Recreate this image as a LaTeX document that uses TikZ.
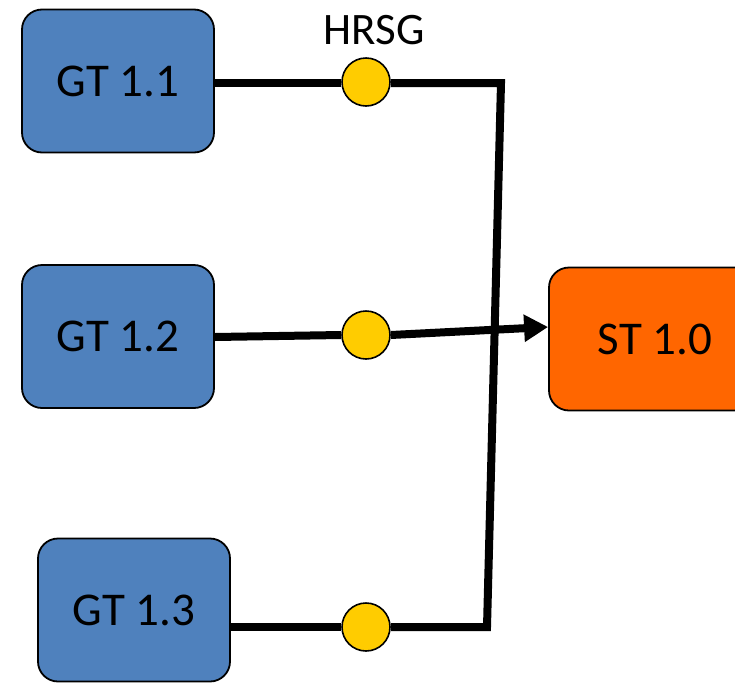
\documentclass[tikz,border=0pt]{standalone}
\usepackage{fontspec}
\setmainfont{Carlito}
\usetikzlibrary{arrows.meta,calc}
\definecolor{gtblue}{HTML}{4F81BD}
\definecolor{storange}{HTML}{FF6600}
\definecolor{hrsgyellow}{HTML}{FFCC00}
\tikzset{
  unit/.style={draw=black, line width=1.8pt, rounded corners=20pt,
    minimum width=192pt, minimum height=143pt, inner sep=0pt,
    font=\fontsize{47}{51}\selectfont},
  gt/.style={unit, fill=gtblue},
  st/.style={unit, fill=storange, minimum width=212pt},
  hrsg/.style={circle, draw=black, line width=1.6pt, fill=hrsgyellow,
    minimum size=48pt, inner sep=0pt},
  pipe/.style={line width=8pt, line join=miter, line cap=butt},
}
\begin{document}
\begin{tikzpicture}[x=1pt,y=-1pt]
  \useasboundingbox (0,0) rectangle (735,683);
  \clip (0,0) rectangle (735,683);

  % turbines
  \node[gt] (g1) at (118,81)  {GT 1.1};
  \node[gt] (g2) at (118,336.5) {GT 1.2};
  \node[gt] (g3) at (134,610) {GT 1.3};
  \node[st] (st) at (655,339) {ST 1.0};

  % heat recovery steam generators
  \node[hrsg] (h1) at (366,82)  {};
  \node[hrsg] (h2) at (366,335) {};
  \node[hrsg] (h3) at (366,627) {};
  \node[font=\fontsize{45}{49}\selectfont] (lbl) at (374,30) {HRSG};

  % header bends
  \coordinate (c1) at (501,83);
  \coordinate (c3) at (487,627);

  % steam lines
  \draw[pipe] (g1.east |- 0,83) -- (h1.west |- 0,83);
  \draw[pipe] (h1.east |- 0,83) -- (c1) -- (c3) -- (h3.east |- 0,627);
  \draw[pipe] (h3.west |- 0,627) -- (g3.east |- 0,627);
  \draw[pipe] (g2.east |- 0,337) -- (h2.west);
  \draw[pipe, -{Triangle[length=24pt,width=26pt]}]
    (h2.east) -- ($(st.west)+(0,-12)$);
\end{tikzpicture}
\end{document}
